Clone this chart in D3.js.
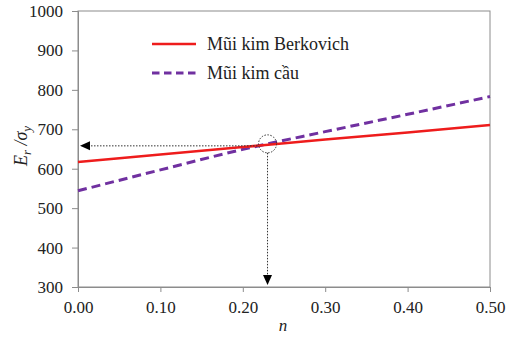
<!DOCTYPE html>
<html><head><meta charset="utf-8">
<script src="https://cdn.jsdelivr.net/npm/d3@7"></script>
<style>body{margin:0;background:#fff}svg{display:block}
svg text{font-family:"Liberation Serif","Times New Roman","DejaVu Serif",serif !important}</style>
</head><body>
<svg id="c" width="516" height="344"></svg>
<script>
const nValues = [0, 0.1, 0.2, 0.3, 0.4, 0.5];
const berkovich = [617, 636, 655, 674, 692, 711];
const spherical = [544, 597, 649, 694, 738, 783];
const seriesNames = ["Mũi kim Berkovich", "Mũi kim cầu"];
const xTicks = [0, 0.1, 0.2, 0.3, 0.4, 0.5];
const yTicks = [300, 400, 500, 600, 700, 800, 900, 1000];
const markN = 0.23, markE = 658;

const svg = d3.select("#c");
const m = {l: 78, r: 490, t: 11, b: 287};
const x = d3.scaleLinear().domain([0, 0.5]).range([m.l, m.r]);
const y = d3.scaleLinear().domain([300, 1000]).range([m.b, m.t]);
const axisCol = "#8c8c8c";

// frame
svg.append("rect").attr("x", m.l).attr("y", m.t).attr("width", m.r - m.l).attr("height", m.b - m.t)
  .attr("fill", "none").attr("stroke", axisCol).attr("stroke-width", 1);

const xa = svg.append("g").attr("transform", `translate(0,${m.b})`)
  .call(d3.axisBottom(x).tickValues(xTicks).tickFormat(d3.format(".2f")).tickSizeOuter(0).tickSize(5).tickPadding(9));
const ya = svg.append("g").attr("transform", `translate(${m.l},0)`)
  .call(d3.axisLeft(y).tickValues(yTicks).tickFormat(d3.format("d")).tickSizeOuter(0).tickSize(6).tickPadding(9));
[xa, ya].forEach(a => {
  a.attr("font-size", 17);
  a.selectAll("path,line").attr("stroke", axisCol);
  a.selectAll("text").attr("fill", "#222");
});

// lines
const line = d3.line().x((d, i) => x(nValues[i])).y(d => y(d)).curve(d3.curveMonotoneX);
svg.append("path").datum(spherical).attr("d", line).attr("fill", "none")
  .attr("stroke", "#7030a0").attr("stroke-width", 3).attr("stroke-dasharray", "9,5");
svg.append("path").datum(berkovich).attr("d", line).attr("fill", "none")
  .attr("stroke", "#ee1c1c").attr("stroke-width", 2.6);

// marker circle & arrows
const cx = x(markN), cy = y(markE) - 2, r = 9;
const dotCol = "#333";
svg.append("circle").attr("cx", cx).attr("cy", cy).attr("r", r).attr("fill", "none")
  .attr("stroke", dotCol).attr("stroke-width", 1).attr("stroke-dasharray", "1.5,1.5");
const hy = y(markE);
svg.append("line").attr("x1", x(0) + 10).attr("x2", cx - r).attr("y1", hy).attr("y2", hy)
  .attr("stroke", dotCol).attr("stroke-width", 1).attr("stroke-dasharray", "1.5,1.5");
svg.append("path").attr("d", `M${x(0) + 2},${hy} L${x(0) + 12},${hy - 4.5} L${x(0) + 12},${hy + 4.5} Z`).attr("fill", "#000");
svg.append("line").attr("x1", cx).attr("x2", cx).attr("y1", cy + r).attr("y2", y(300) - 10)
  .attr("stroke", dotCol).attr("stroke-width", 1).attr("stroke-dasharray", "1.5,1.5");
svg.append("path").attr("d", `M${cx},${y(300) - 2} L${cx - 4.5},${y(300) - 12} L${cx + 4.5},${y(300) - 12} Z`).attr("fill", "#000");

// legend
const lg = svg.append("g");
lg.append("line").attr("x1", 152).attr("x2", 196).attr("y1", 44).attr("y2", 44)
  .attr("stroke", "#ee1c1c").attr("stroke-width", 2.6);
lg.append("line").attr("x1", 152).attr("x2", 196).attr("y1", 73).attr("y2", 73)
  .attr("stroke", "#7030a0").attr("stroke-width", 3).attr("stroke-dasharray", "7.5,4.5");
lg.append("text").attr("x", 207).attr("y", 50).attr("font-size", 18).attr("fill", "#222").text(seriesNames[0]);
lg.append("text").attr("x", 207).attr("y", 79).attr("font-size", 18).attr("fill", "#222").text(seriesNames[1]);

// axis titles
svg.append("text").attr("x", 283).attr("y", 331).attr("text-anchor", "middle")
  .attr("font-size", 17).attr("font-style", "italic").attr("fill", "#222").text("n");
const yl = svg.append("text").attr("transform", "translate(27,146) rotate(-90)").attr("text-anchor", "middle")
  .attr("font-size", 18).attr("font-style", "italic").attr("fill", "#222");
yl.append("tspan").text("E");
yl.append("tspan").attr("dy", 4).attr("font-size", 13).text("r");
yl.append("tspan").attr("dy", -4).text(" /σ");
yl.append("tspan").attr("dy", 4).attr("font-size", 13).text("y");
</script>
</body></html>
